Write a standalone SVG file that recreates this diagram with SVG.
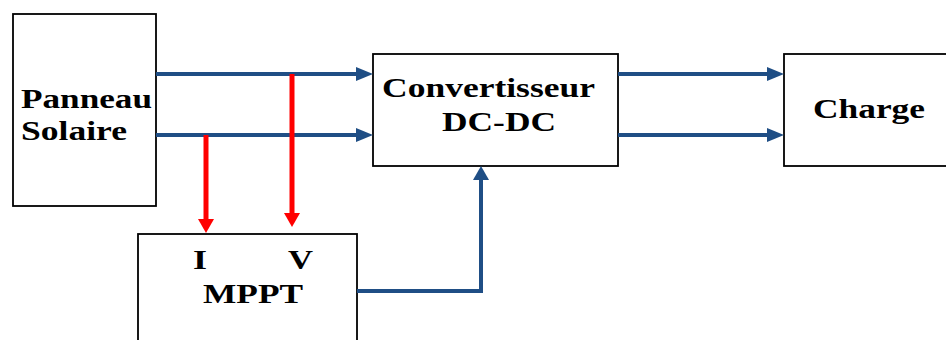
<svg xmlns="http://www.w3.org/2000/svg" width="946" height="340" viewBox="0 0 946 340">
<style>
.box{fill:#fff;stroke:#000;stroke-width:1.8}
.t{font-family:"Liberation Serif","Times New Roman",serif;font-weight:bold;font-size:28px;fill:#000}
.b{fill:none;stroke:#1F4E85;stroke-width:4}
.r{fill:none;stroke:#FF0000;stroke-width:5}
.bh{fill:#1F4E85}
.rh{fill:#FF0000}
</style>
<rect width="946" height="340" fill="#fff"/>
<g id="panneau">
<rect class="box" x="13" y="14" width="143" height="192"/>
<text class="t" x="21" y="108" textLength="131" lengthAdjust="spacingAndGlyphs">Panneau</text>
<text class="t" x="21" y="140" textLength="106" lengthAdjust="spacingAndGlyphs">Solaire</text>
</g>
<g id="convertisseur">
<rect class="box" x="373" y="54" width="245" height="112"/>
<text class="t" x="382" y="97" textLength="213" lengthAdjust="spacingAndGlyphs">Convertisseur</text>
<text class="t" x="442" y="131" textLength="114" lengthAdjust="spacingAndGlyphs">DC-DC</text>
</g>
<g id="charge">
<rect class="box" x="784" y="54" width="163" height="112"/>
<text class="t" x="813" y="118" textLength="112" lengthAdjust="spacingAndGlyphs">Charge</text>
</g>
<g id="mppt">
<rect class="box" x="138" y="234" width="219" height="110"/>
<text class="t" x="193" y="269" textLength="14" lengthAdjust="spacingAndGlyphs">I</text>
<text class="t" x="288" y="269" textLength="25" lengthAdjust="spacingAndGlyphs">V</text>
<text class="t" x="203" y="303" textLength="100" lengthAdjust="spacingAndGlyphs">MPPT</text>
</g>
<g id="connectors">
<line class="b" x1="156" y1="74" x2="358" y2="74"/>
<polygon class="bh" points="373,74 356,67 356,81"/>
<line class="b" x1="156" y1="135" x2="358" y2="135"/>
<polygon class="bh" points="373,135 356,128 356,142"/>
<line class="b" x1="618" y1="74" x2="769" y2="74"/>
<polygon class="bh" points="784,74 767,67 767,81"/>
<line class="b" x1="618" y1="135" x2="769" y2="135"/>
<polygon class="bh" points="784,135 767,128 767,142"/>
<polyline class="b" points="357,291 481,291 481,178"/>
<polygon class="bh" points="481,166 473,180 489,180"/>
<line class="r" x1="206" y1="135" x2="206" y2="221"/>
<polygon class="rh" points="206,233 198,219 214,219"/>
<line class="r" x1="292" y1="74" x2="292" y2="215"/>
<polygon class="rh" points="292,227 284,213 300,213"/>
</g>
</svg>
